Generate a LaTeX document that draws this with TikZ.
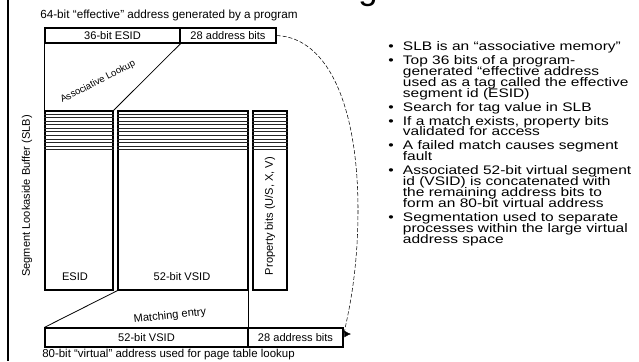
\documentclass[tikz,border=0pt]{standalone}
\usepackage{fontspec}
\setmainfont{Liberation Sans}
\newfontfamily\notesfont[FakeStretch=1.25]{Liberation Sans}
\usetikzlibrary{arrows.meta,positioning,calc}

\newcommand{\bul}{\makebox[11pt][l]{\textbullet}}
\newcommand{\ind}{\hspace*{11pt}}
\newcommand{\tightlines}{\lineskiplimit=-20pt\relax\lineskip=0pt\relax}

\begin{document}
\begin{tikzpicture}[x=0.75pt,y=-0.75pt,
  field/.style={draw,line width=0.9pt,inner sep=0pt,minimum height=11.25pt,
                font=\fontsize{8.3}{9}\selectfont},
  column/.style={draw,line width=0.9pt,inner sep=0pt,minimum height=134.25pt},
  lbl/.style={inner sep=0pt,font=\fontsize{8.3}{9}\selectfont},
  link/.style={line width=0.6pt},
  rowline/.style={line width=0.35pt,black!85},
  notes/.style={anchor=north west,align=left,inner sep=0pt,
                font=\notesfont\fontsize{9.3}{8.2}\selectfont\tightlines}
]
  \useasboundingbox (0,0) rectangle (639,361);
  \draw[line width=1pt] (8,0) -- (8,361);
  \node[anchor=south,inner sep=0pt,font=\fontsize{26}{28}\selectfont] (titleg) at (368,7) {g};

  % effective address
  \node[lbl,anchor=west,font=\fontsize{8.8}{9}\selectfont] (effaddr) at (40,15) {64-bit “effective” address generated by a program};
  \node[field,minimum width=101.25pt] (esidin) at (112.5,35.5) {36-bit ESID};
  \node[field,minimum width=72pt] (addrin) at (228,35.5) {28 address bits};

  % the SLB
  \node[column,minimum width=51pt] (slbesid) at (79,200.5) {};
  \node[column,minimum width=97.5pt] (slbvsid) at (183,200.5) {};
  \node[column,minimum width=25.5pt] (slbprop) at (270,200.5) {};
  \foreach \c in {slbesid,slbvsid,slbprop}
    \foreach \r in {1,...,11}
      \draw[rowline] ($(\c.north west)+(0,3.55*\r)$) -- ($(\c.north east)+(0,3.55*\r)$);

  \node[lbl] (esidname) at (75,277) {ESID};
  \node[lbl] (vsidname) at (182,277) {52-bit VSID};
  \node[lbl,rotate=90] (propname) at (270,216) {Property bits (U/S, X, V)};
  \node[lbl,rotate=90] (slbname) at (27,196) {Segment Lookaside Buffer (SLB)};

  \draw[link] (esidin.south west) -- (slbesid.north west);
  \draw[link] (esidin.south east) -- (slbesid.north east);
  \node[inner sep=0pt,font=\fontsize{7.2}{8}\selectfont,rotate=27] (lookup) at (98,82) {Associative Lookup};

  % virtual address
  \node[field,minimum width=152.25pt,minimum height=14.25pt] (vsidout) at (146.5,337.5) {52-bit VSID};
  \node[field,minimum width=71.25pt,minimum height=14.25pt] (addrout) at (295.5,337.5) {28 address bits};
  \draw[link] (slbvsid.south west) -- (vsidout.north west);
  \draw[link] (slbvsid.south east) -- (vsidout.north east);
  \node[lbl,rotate=6] (matching) at (170,316) {Matching entry};
  \node[lbl,anchor=west,font=\fontsize{8.6}{9}\selectfont] (virtaddr) at (42,355) {80-bit “virtual” address used for page table lookup};

  \coordinate (vend) at (351,334);
  \draw[dash pattern=on 3pt off 1.5pt,line width=0.4pt,-{Latex[length=5pt,width=5pt]}]
    (addrin.east) .. controls (330,38) and (358,110) .. (358,210)
    .. controls (358,290) and (342,334) .. (vend);

  \node[notes] (notes) at (388,41) {%
    \bul SLB is an “associative memory”\\[2.3pt]
    \bul Top 36 bits of a program-\\
    \ind generated “effective address\\
    \ind used as a tag called the effective\\
    \ind segment id (ESID)\\[2.3pt]
    \bul Search for tag value in SLB\\[2.3pt]
    \bul If a match exists, property bits\\
    \ind validated for access\\[2.3pt]
    \bul A failed match causes segment\\
    \ind fault\\[2.3pt]
    \bul Associated 52-bit virtual segment\\
    \ind id (VSID) is concatenated with\\
    \ind the remaining address bits to\\
    \ind form an 80-bit virtual address\\[2.3pt]
    \bul Segmentation used to separate\\
    \ind processes within the large virtual\\
    \ind address space};
\end{tikzpicture}
\end{document}
